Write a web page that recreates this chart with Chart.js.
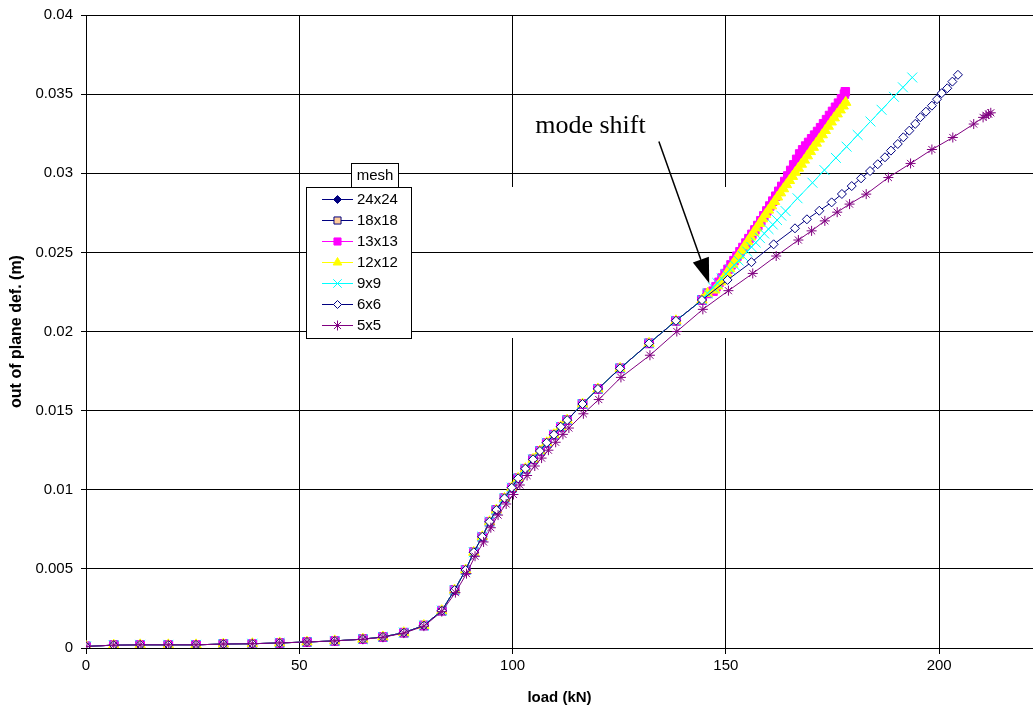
<!DOCTYPE html>
<html><head><meta charset="utf-8">
<script src="https://cdn.jsdelivr.net/npm/chart.js@4.4.1/dist/chart.umd.min.js"></script>
<style>html,body{margin:0;padding:0;background:#fff;overflow:hidden}#wrap{position:relative;width:1033px;height:711px}</style>
</head><body><div id="wrap"><canvas id="c" width="1033" height="711"></canvas></div>
<script>
// ---------------- data ----------------
const seriesNames = ['24x24', '18x18', '13x13', '12x12', '9x9', '6x6', '5x5'];
const xTickValues = [0, 50, 100, 150, 200];
const yTickValues = [0, 0.005, 0.01, 0.015, 0.02, 0.025, 0.03, 0.035, 0.04];

// common path shared by all meshes up to the mode shift
const loadBase = [0, 6.5, 12.7, 19.3, 25.8, 32.2, 39.0, 45.4, 51.8, 58.3, 64.9, 69.6, 74.5, 79.2, 83.4,
  86.4, 89.0, 90.9, 92.9, 94.6, 96.2, 98.1, 99.8, 101.3, 103.0, 104.8, 106.4, 108.0, 109.7, 111.3, 112.8,
  116.4, 120.0, 125.2, 132.0, 138.3, 144.4, 145.7];
const defBase = [0.0001, 0.00018, 0.0002, 0.0002, 0.0002, 0.00025, 0.00027, 0.00032, 0.00038, 0.00045, 0.00056, 0.0007, 0.00097, 0.00142, 0.00236,
  0.00366, 0.00493, 0.00605, 0.00703, 0.00798, 0.00872, 0.00946, 0.01013, 0.01072, 0.01133, 0.01192, 0.01245, 0.01297, 0.01348, 0.01398, 0.0144,
  0.01542, 0.01637, 0.01767, 0.01925, 0.02068, 0.02199, 0.02241];

// 13x13 after the mode shift
const load13 = [147.0, 147.7, 148.4, 149.1, 149.8, 150.5, 151.2, 151.9, 152.6, 153.3, 154.0, 154.7, 155.4, 156.1, 156.8, 157.5,
  158.2, 158.9, 159.6, 160.3, 161.0, 161.7, 162.4, 163.1, 163.8, 164.5, 165.2, 165.9, 166.6, 167.3, 168.0, 168.7, 169.4,
  170.1, 170.8, 171.5, 172.2, 172.9, 173.6, 174.3, 175.0, 175.7, 176.4, 177.1, 177.8, 178.0];
const def13 = [0.02255, 0.02283, 0.02311, 0.02338, 0.02366, 0.02393, 0.02421, 0.02448, 0.02476, 0.02504, 0.02531, 0.02559, 0.02587, 0.02614, 0.02642, 0.02670,
  0.02700, 0.02731, 0.02762, 0.02793, 0.02824, 0.02855, 0.02886, 0.02917, 0.02948, 0.02983, 0.03018, 0.03053, 0.03088, 0.03122, 0.03148, 0.03172, 0.03195,
  0.03218, 0.03241, 0.03264, 0.03288, 0.03313, 0.03339, 0.03365, 0.03391, 0.03417, 0.03443, 0.03470, 0.03500, 0.03515];

// 12x12 after the mode shift
const load12 = [147.4, 148.1, 148.8, 149.5, 150.2, 150.9, 151.6, 152.3, 153.0, 153.7, 154.4, 155.1, 155.8, 156.5, 157.2, 157.9,
  158.6, 159.3, 160.0, 160.7, 161.4, 162.1, 162.8, 163.5, 164.2, 164.9, 165.6, 166.3, 167.0, 167.7, 168.4, 169.1, 169.8,
  170.5, 171.2, 171.9, 172.6, 173.3, 174.0, 174.7, 175.4, 176.1, 176.8, 177.5, 178.1];
const def12 = [0.02262, 0.02288, 0.02314, 0.02340, 0.02368, 0.02397, 0.02425, 0.02454, 0.02482, 0.02511, 0.02540, 0.02568, 0.02597, 0.02626, 0.02654, 0.02683,
  0.02712, 0.02740, 0.02767, 0.02794, 0.02822, 0.02850, 0.02876, 0.02902, 0.02928, 0.02954, 0.02980, 0.03006, 0.03032, 0.03057, 0.03083, 0.03110, 0.03137,
  0.03164, 0.03190, 0.03216, 0.03243, 0.03270, 0.03297, 0.03324, 0.03350, 0.03375, 0.03400, 0.03425, 0.03448];

// 9x9 after the mode shift
const load9 = [147.0, 148.0, 149.0, 150.0, 151.0, 152.0, 153.0, 154.0, 155.0, 156.0, 157.0, 158.0, 159.0, 160.0, 161.0, 162.0, 163.0, 164.0,
  166.8, 170.3, 173.1, 175.8, 178.3, 180.9, 183.9, 186.5, 189.4, 191.5, 193.7];
const def9 = [0.02278, 0.02306, 0.02335, 0.02363, 0.02392, 0.02420, 0.02448, 0.02477, 0.02505, 0.02534, 0.02562, 0.02590, 0.02619, 0.02647, 0.02676, 0.02704, 0.02732, 0.02761,
  0.02842, 0.02940, 0.03020, 0.03097, 0.03168, 0.03242, 0.03327, 0.03401, 0.03483, 0.03543, 0.03605];

// 6x6 after the mode shift
const load6 = [150.4, 156.0, 161.2, 166.2, 169.0, 171.9, 174.8, 177.2, 179.5, 181.7, 183.8, 185.6, 187.3, 188.7, 190.3, 191.6,
  193.0, 194.4, 195.6, 196.9, 198.3, 199.5, 200.6, 201.9, 203.1, 204.4];
const def6 = [0.02326, 0.02438, 0.02551, 0.02652, 0.02709, 0.02763, 0.02816, 0.02869, 0.02919, 0.02968, 0.03014, 0.03057, 0.03101, 0.03143, 0.03185, 0.03227,
  0.03269, 0.03312, 0.03354, 0.03389, 0.03427, 0.03468, 0.03506, 0.03537, 0.03579, 0.03622];

// 5x5 (whole curve)
const load5 = [0, 6.5, 12.7, 19.3, 25.8, 32.2, 39.0, 45.4, 51.8, 58.3, 64.9, 69.6, 74.5, 79.2, 83.4,
  86.6, 89.2, 91.2, 93.2, 94.9, 96.6, 98.5, 100.2, 101.7, 103.4, 105.2, 106.8, 108.4, 110.1, 111.8, 113.2,
  116.6, 120.2, 125.4, 132.2, 138.5, 144.6, 150.6, 156.3, 161.8, 167.0, 170.1, 173.2, 176.1, 179.0, 182.9,
  188.1, 193.3, 198.3, 203.2, 208.1, 210.3, 211.0, 211.6, 212.1];
const def5 = [0.0001, 0.00018, 0.0002, 0.0002, 0.0002, 0.00025, 0.00027, 0.00032, 0.00038, 0.00045, 0.00055, 0.00068, 0.00094, 0.00138, 0.0023,
  0.0035, 0.0047, 0.0058, 0.0067, 0.0076, 0.0084, 0.0091, 0.0097, 0.0103, 0.0109, 0.0115, 0.0120, 0.0125, 0.0130, 0.0135, 0.0139,
  0.0148, 0.0157, 0.0171, 0.0185, 0.0200, 0.0214, 0.02258, 0.02367, 0.02477, 0.02578, 0.02636, 0.02699, 0.02754, 0.02805, 0.02868,
  0.02973, 0.03062, 0.0315, 0.03226, 0.03311, 0.03353, 0.03366, 0.03374, 0.03382];

// ---------------- build ----------------
function pts(xs, ys) { return xs.map((x, i) => ({ x: x, y: ys[i] })); }
const seriesData = [
  pts(loadBase, defBase),
  pts(loadBase, defBase),
  pts(loadBase.concat(load13), defBase.concat(def13)),
  pts(loadBase.concat(load12), defBase.concat(def12)),
  pts(loadBase.concat(load9), defBase.concat(def9)),
  pts(loadBase.slice(0, -1).concat(load6), defBase.slice(0, -1).concat(def6)),
  pts(load5, def5)
];
const styles = [
  { line: '#000080', fill: '#000080', border: '#000080', shape: 'rectRot', r: 4.5, lr: 4 },
  { line: '#000080', fill: '#FFCC99', border: '#000080', shape: 'rect', r: 6, lr: 5 },
  { line: '#FF00FF', fill: '#FF00FF', border: '#FF00FF', shape: 'rect', r: 6, lr: 5 },
  { line: '#FFFF00', fill: '#FFFF00', border: '#FFFF00', shape: 'triangle', r: 6, lr: 5 },
  { line: '#00FFFF', fill: '#00FFFF', border: '#00FFFF', shape: 'crossRot', r: 7, lr: 6 },
  { line: '#000080', fill: '#FFFFFF', border: '#000080', shape: 'rectRot', r: 4.5, lr: 4 },
  { line: '#800080', fill: '#800080', border: '#800080', shape: 'star', r: 5, lr: 5 }
];
const datasets = seriesNames.map((name, i) => ({
  label: name,
  data: seriesData[i],
  showLine: true,
  borderColor: styles[i].line,
  borderWidth: 1,
  pointStyle: styles[i].shape,
  pointRadius: styles[i].r,
  pointBackgroundColor: styles[i].fill,
  pointBorderColor: styles[i].border,
  pointBorderWidth: 1,
  order: seriesNames.length - i,
  tension: 0
}));

const FONT = '"Liberation Sans", Arial, sans-serif';

// stretch the plot area to the right edge of the canvas (the reference is cropped there)
const fullRight = {
  id: 'fullRight',
  afterLayout(chart) {
    const ca = chart.chartArea, xs = chart.scales.x;
    ca.right = chart.width; ca.width = ca.right - ca.left;
    xs.right = chart.width; xs.width = xs.right - xs.left;
    xs.configure();
  }
};

const gridGap = {
  id: 'gridGap',
  beforeDatasetsDraw(chart) {
    const xs = chart.scales.x, ys = chart.scales.y, ctx = chart.ctx;
    const top = Math.round(ys.getPixelForValue(0.0291));
    const bot = Math.round(ys.getPixelForValue(0.01965));
    const skip = [0.025, 0.02].map(v => Math.round(ys.getPixelForValue(v) - 0.5));
    ctx.save();
    ctx.fillStyle = '#ffffff';
    [100, 150].forEach(v => {
      const c = Math.round(xs.getPixelForValue(v) - 0.5);
      for (let y = top; y <= bot; y++) {
        if (skip.indexOf(y) >= 0) continue;
        ctx.fillRect(c - 1, y, 3, 1);
      }
    });
    ctx.restore();
  }
};

const annot = {
  id: 'annot',
  afterDatasetsDraw(chart) {
    const xs = chart.scales.x, ys = chart.scales.y, ctx = chart.ctx;
    ctx.save();
    ctx.fillStyle = '#000';
    ctx.font = '26px "Liberation Serif", "Times New Roman", serif';
    ctx.textBaseline = 'alphabetic';
    ctx.textAlign = 'left';
    ctx.fillText('mode shift', xs.getPixelForValue(105.3), ys.getPixelForValue(0.03254));
    const x0 = xs.getPixelForValue(134.3), y0 = ys.getPixelForValue(0.0320);
    const x1 = xs.getPixelForValue(146.1), y1 = ys.getPixelForValue(0.02305);
    const ang = Math.atan2(y1 - y0, x1 - x0);
    const hl = 25, hw = 8.5;
    const bx = x1 - hl * Math.cos(ang), by = y1 - hl * Math.sin(ang);
    ctx.strokeStyle = '#000'; ctx.lineWidth = 1.5;
    ctx.beginPath(); ctx.moveTo(x0, y0); ctx.lineTo(bx, by); ctx.stroke();
    ctx.beginPath();
    ctx.moveTo(x1, y1);
    ctx.lineTo(bx + hw * Math.sin(ang), by - hw * Math.cos(ang));
    ctx.lineTo(bx - hw * Math.sin(ang), by + hw * Math.cos(ang));
    ctx.closePath(); ctx.fill();
    ctx.restore();
  }
};

const meshLegend = {
  id: 'meshLegend',
  afterDraw(chart) {
    const ctx = chart.ctx;
    ctx.save();
    ctx.fillStyle = '#fff'; ctx.strokeStyle = '#000'; ctx.lineWidth = 1;
    ctx.fillRect(306.5, 187.5, 105, 151); ctx.strokeRect(306.5, 187.5, 105, 151);
    ctx.fillRect(351.5, 163.5, 47, 24); ctx.strokeRect(351.5, 163.5, 47, 24);
    ctx.font = '15px ' + FONT;
    ctx.fillStyle = '#000'; ctx.textBaseline = 'middle'; ctx.textAlign = 'center';
    ctx.fillText('mesh', 375, 176);
    ctx.textAlign = 'left';
    chart.data.datasets.forEach((ds, i) => {
      const y = 199.5 + 21 * i;
      ctx.strokeStyle = ds.borderColor; ctx.lineWidth = ds.borderWidth;
      ctx.beginPath(); ctx.moveTo(322, y); ctx.lineTo(353, y); ctx.stroke();
      ctx.fillStyle = ds.pointBackgroundColor; ctx.strokeStyle = ds.pointBorderColor; ctx.lineWidth = ds.pointBorderWidth;
      if (Chart.helpers && Chart.helpers.drawPoint) {
        Chart.helpers.drawPoint(ctx, { pointStyle: ds.pointStyle, radius: styles[i].lr, rotation: 0, borderWidth: ds.pointBorderWidth }, 337.5, y);
      }
      ctx.fillStyle = '#000';
      ctx.fillText(ds.label, 357, y + 0.5);
    });
    ctx.restore();
  }
};

new Chart(document.getElementById('c'), {
  type: 'scatter',
  data: { datasets: datasets },
  plugins: [fullRight, gridGap, annot, meshLegend],
  options: {
    responsive: false,
    animation: false,
    layout: { padding: { top: 15, right: 0, left: 0, bottom: 0 } },
    plugins: { legend: { display: false }, tooltip: { enabled: false } },
    scales: {
      x: {
        type: 'linear', min: 0, max: 222,
        afterBuildTicks: s => { s.ticks = xTickValues.map(v => ({ value: v })); },
        afterFit: s => { s.height = 63; s.paddingRight = 0; s.paddingLeft = 0; },
        ticks: { font: { family: FONT, size: 15 }, color: '#000', padding: 3, maxRotation: 0, callback: v => String(v) },
        grid: { color: '#000', lineWidth: 1, drawTicks: true, tickLength: 6, tickColor: '#000' },
        border: { display: true, color: '#000', width: 1 },
        title: { display: true, text: 'load (kN)', color: '#000', font: { family: FONT, size: 15, weight: 'bold' }, padding: { top: 0, bottom: 4 } }
      },
      y: {
        type: 'linear', min: 0, max: 0.04,
        afterBuildTicks: s => { s.ticks = yTickValues.map(v => ({ value: v })); },
        afterFit: s => { s.width = 86; s.paddingTop = 0; s.paddingBottom = 0; },
        ticks: { font: { family: FONT, size: 15 }, color: '#000', padding: 8, callback: v => String(+v.toFixed(3)) },
        grid: { color: '#000', lineWidth: 1, drawTicks: true, tickLength: 5, tickColor: '#000' },
        border: { display: true, color: '#000', width: 1 },
        title: { display: true, text: 'out of plane def. (m)', color: '#000', font: { family: FONT, size: 16, weight: 'bold' }, padding: { top: 7, bottom: 0 } }
      }
    }
  }
});
</script>
</body></html>
